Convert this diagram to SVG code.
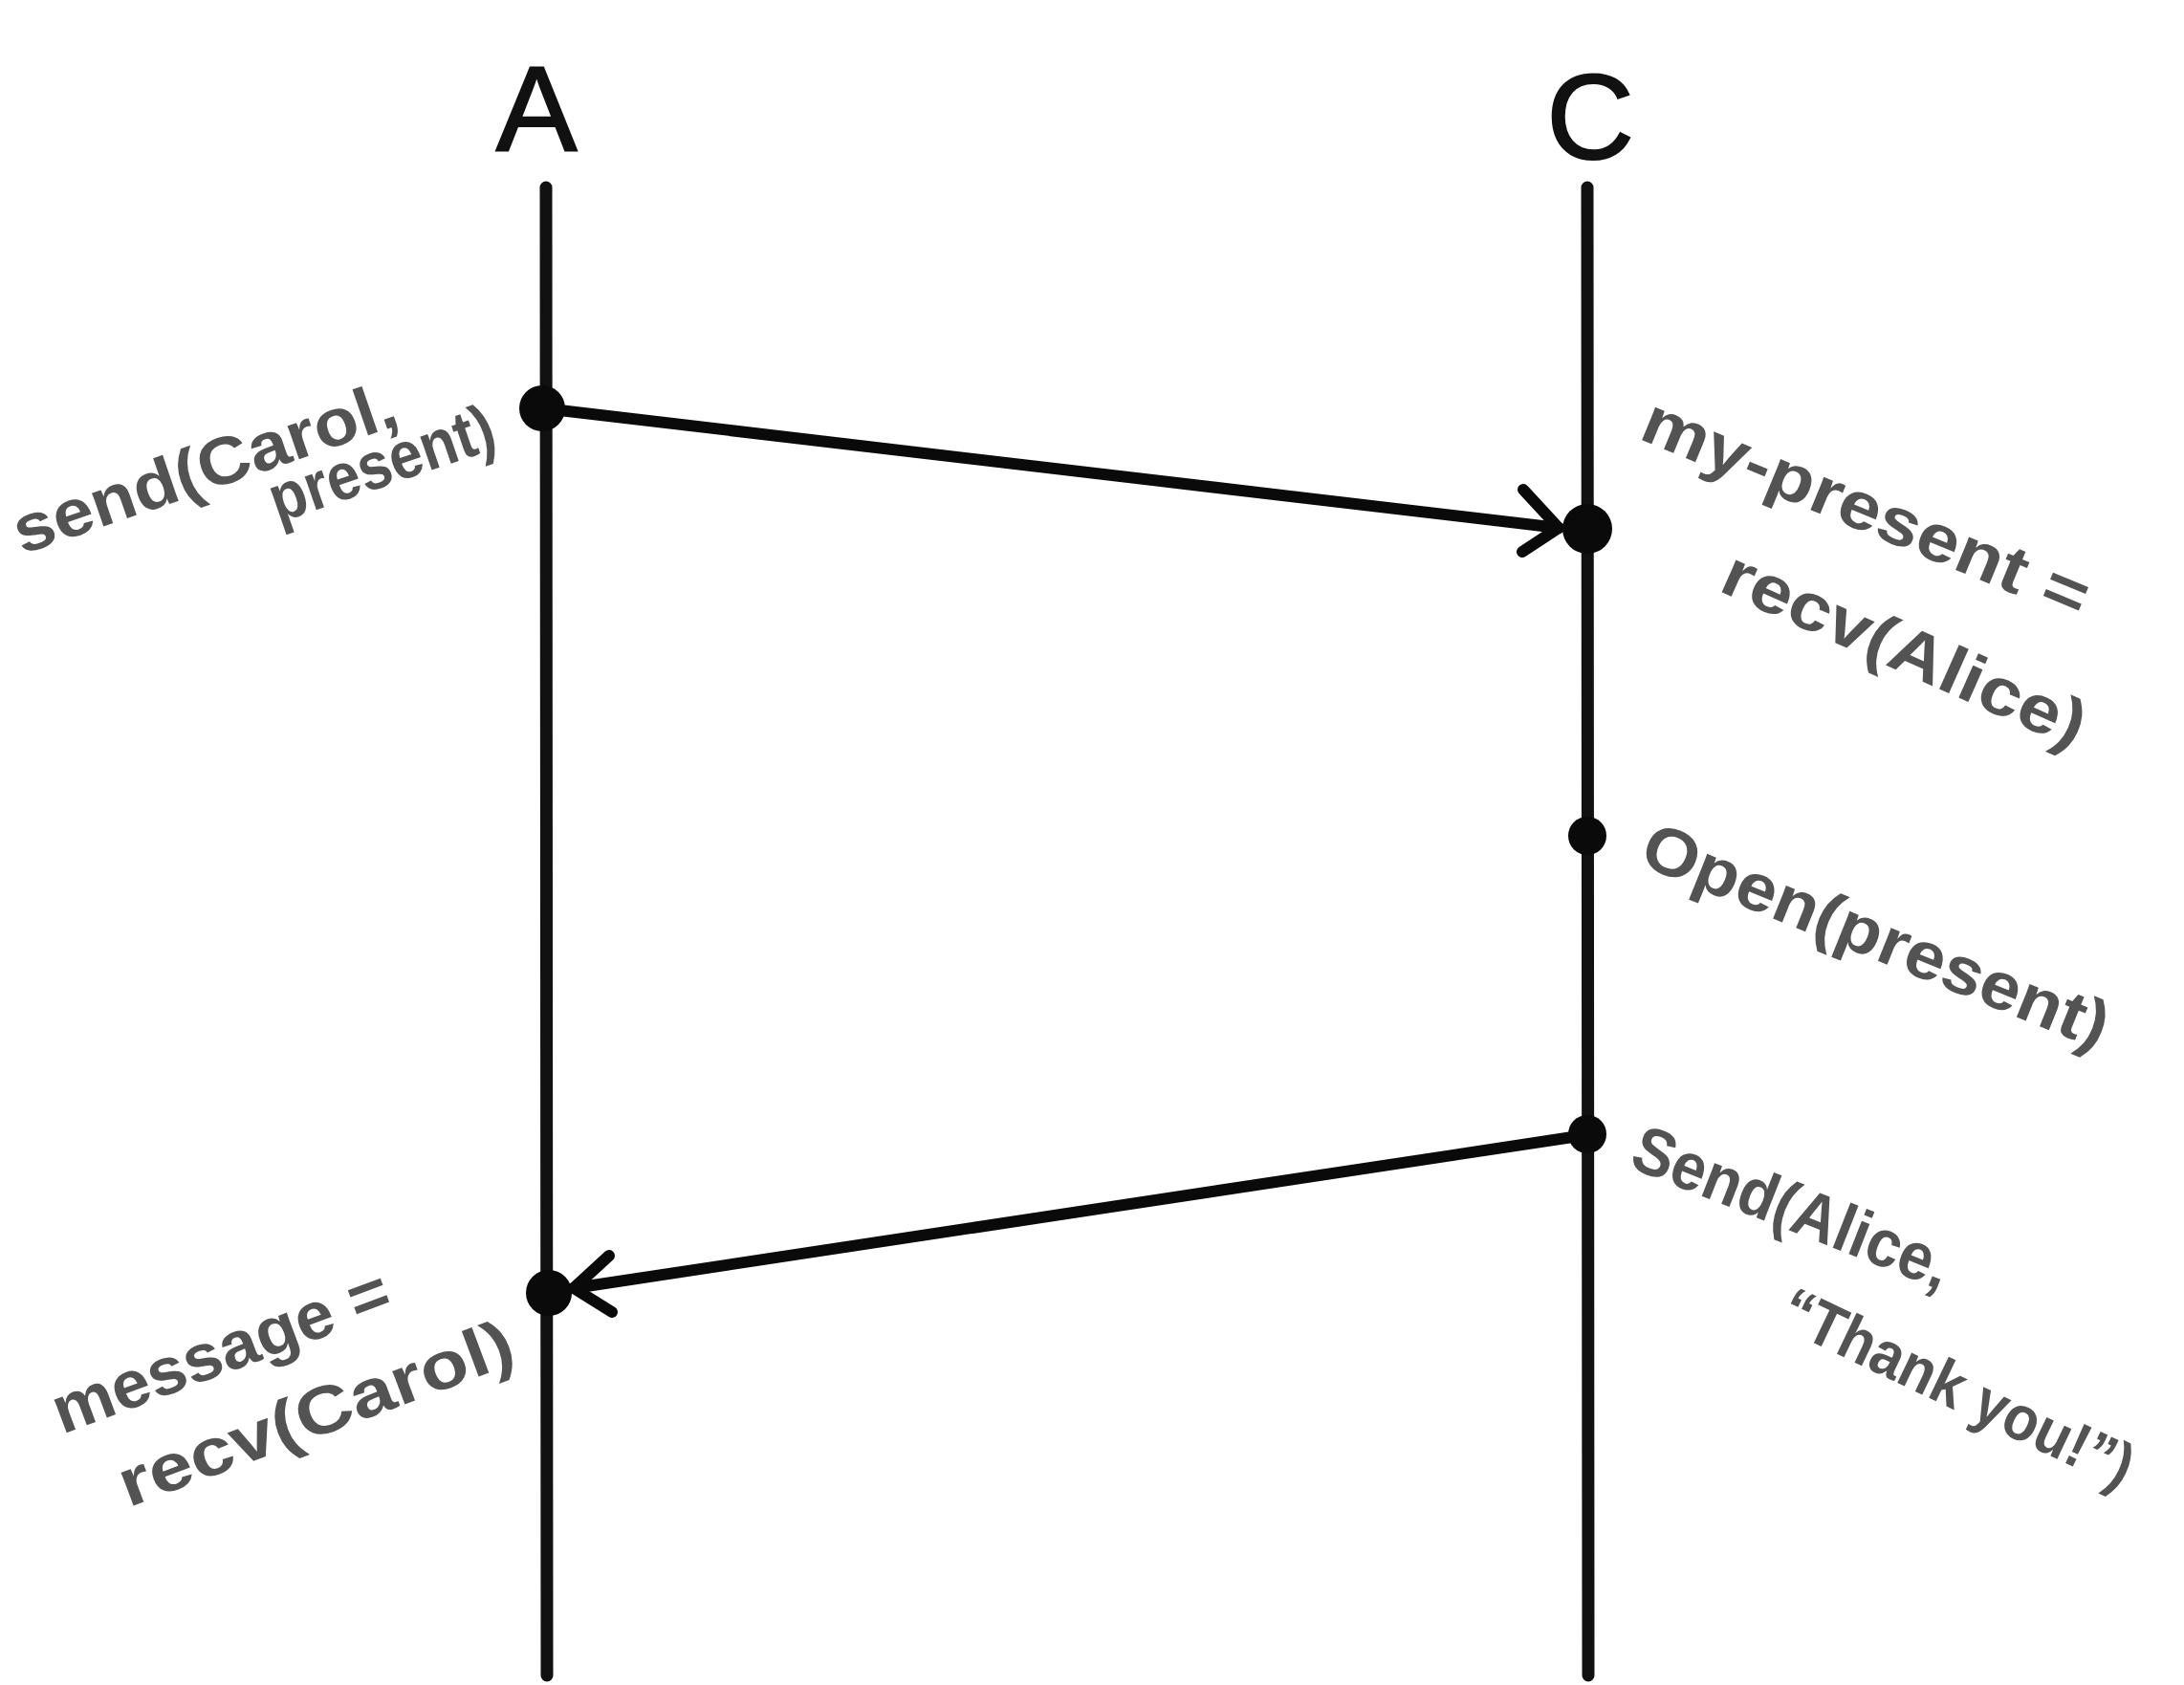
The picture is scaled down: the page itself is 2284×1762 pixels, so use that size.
<svg xmlns="http://www.w3.org/2000/svg" width="2284" height="1762" viewBox="0 0 2284 1762">
<style>
.life{stroke:#111;stroke-width:13;fill:none;stroke-linecap:round}
.msg{stroke:#0a0a0a;stroke-width:12;fill:none;stroke-linecap:round;stroke-linejoin:round}
.dot{fill:#0a0a0a}
.head{font-family:"Liberation Sans",Arial,sans-serif;font-size:127px;fill:#111;stroke:#111;stroke-width:2;text-anchor:middle}
.lbl{font-family:"Liberation Sans",Arial,sans-serif;font-weight:bold;font-size:70px;fill:#535353}
</style>
<rect width="2284" height="1762" fill="#fff"/>
<g id="lifeline-A">
<text class="head" x="561" y="157">A</text>
<line class="life" x1="571" y1="196" x2="572" y2="1752"/>
</g>
<g id="lifeline-C">
<text class="head" x="1663" y="166">C</text>
<line class="life" x1="1660" y1="196" x2="1661" y2="1752"/>
</g>
<g id="connectors">
<path class="msg" d="M568 427 L1630 552"/>
<path class="msg" d="M1593 512 L1630 552 L1592 577"/>
<path class="msg" d="M1658 1187 L600 1347"/>
<path class="msg" d="M637 1313 L600 1347 L640 1372"/>
</g>
<g id="event-A1">
<circle class="dot" cx="567" cy="427" r="24"/>
<g transform="translate(23 580) rotate(-19)">
<text class="lbl" x="0" y="0" textLength="420" lengthAdjust="spacingAndGlyphs">send(Carol,</text>
<text class="lbl" x="264" y="56" textLength="245" lengthAdjust="spacingAndGlyphs">present)</text>
</g>
</g>
<g id="event-C1">
<circle class="dot" cx="1660" cy="553" r="26"/>
<g transform="translate(1712 458) rotate(22.5)">
<text class="lbl" x="0" y="0" textLength="499" lengthAdjust="spacingAndGlyphs">my-present =</text>
<text class="lbl" transform="translate(138 115) rotate(1.5)" x="0" y="0" textLength="409" lengthAdjust="spacingAndGlyphs">recv(Alice)</text>
</g>
</g>
<g id="event-C2">
<circle class="dot" cx="1660" cy="874" r="20"/>
<g transform="translate(1712 903) rotate(22)">
<text class="lbl" x="0" y="0" textLength="520" lengthAdjust="spacingAndGlyphs">Open(present)</text>
</g>
</g>
<g id="event-C3">
<circle class="dot" cx="1660" cy="1186" r="20"/>
<g transform="translate(1702 1220) rotate(21.5)">
<text class="lbl" x="0" y="0" textLength="352" lengthAdjust="spacingAndGlyphs">Send(Alice,</text>
<text class="lbl" style="font-size:66px" transform="translate(205 97) rotate(4)" x="0" y="0" textLength="400" lengthAdjust="spacingAndGlyphs">“Thank you!”)</text>
</g>
</g>
<g id="event-A2">
<circle class="dot" cx="574" cy="1352" r="24"/>
<g transform="translate(65 1500) rotate(-20.5)">
<text class="lbl" x="0" y="0" textLength="372" lengthAdjust="spacingAndGlyphs">message =</text>
<text class="lbl" x="38" y="96" textLength="436" lengthAdjust="spacingAndGlyphs">recv(Carol)</text>
</g>
</g>
</svg>
